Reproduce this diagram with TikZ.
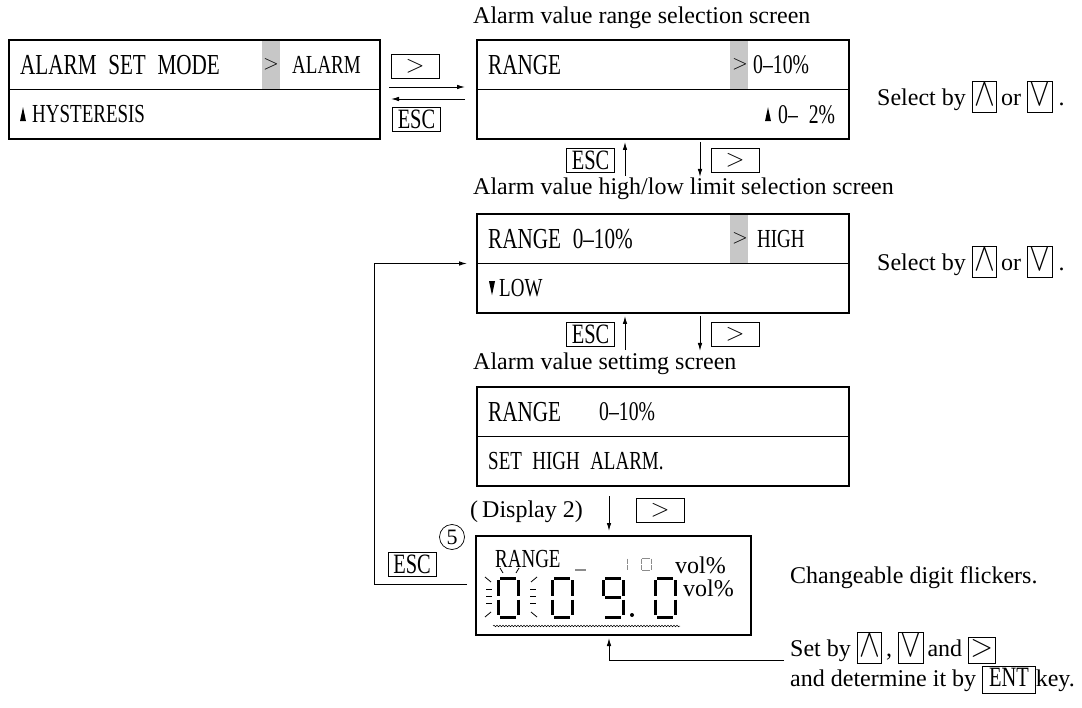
\documentclass[tikz,border=0pt]{standalone}
\usepackage{fontspec}
\setmainfont{Liberation Serif}
\newfontfamily\lcdfont[FakeStretch=0.73,WordSpace=2.2]{Liberation Serif}
\usepackage{graphicx}
\usetikzlibrary{positioning,arrows.meta,calc,backgrounds,decorations.pathmorphing}

\newcommand{\kbox}[1]{{\fboxsep=1.5pt\fboxrule=0.8pt\fbox{\rule[-5pt]{0pt}{22pt}#1}}}
\newcommand{\upkey}{\kbox{\scalebox{1.25}[1.6]{$\wedge$}}}
\newcommand{\dnkey}{\kbox{\scalebox{1.25}[1.6]{$\vee$}}}
% one 7-segment digit, top left corner at (#2,#3), segments #4
\newcommand{\lcddigit}[4][]{%
  \begin{scope}[shift={(#2,#3)},line width=3pt,#1]
    \coordinate (sa1) at (2,0);     \coordinate (sa2) at (18,0);
    \coordinate (sb1) at (20,2);    \coordinate (sb2) at (20,17.5);
    \coordinate (sc1) at (20,21.5); \coordinate (sc2) at (20,37);
    \coordinate (sd1) at (2,39);    \coordinate (sd2) at (18,39);
    \coordinate (se1) at (0,21.5);  \coordinate (se2) at (0,37);
    \coordinate (sf1) at (0,2);     \coordinate (sf2) at (0,17.5);
    \coordinate (sg1) at (2,19.5);  \coordinate (sg2) at (18,19.5);
    \foreach \s in {#4} \draw (s\s1) -- (s\s2);
  \end{scope}}

\begin{document}
\begin{tikzpicture}[x=1pt,y=-1pt,
  row/.style={draw,line width=1.1pt,minimum width=372pt,minimum height=49.5pt,inner sep=0pt,outer sep=0pt,anchor=north west},
  lcdA/.style={font={\lcdfont\fontsize{29}{31}\selectfont},inner sep=0pt,anchor=west},
  lcdB/.style={font={\lcdfont\fontsize{26}{28}\selectfont},inner sep=0pt,anchor=west},
  lcdC/.style={font={\lcdfont\fontsize{27}{29}\selectfont},inner sep=0pt,anchor=west},
  cursor/.style={font={\fontsize{22}{24}\selectfont},inner sep=0pt},
  title/.style={font={\fontsize{24}{28}\selectfont},inner sep=0pt,anchor=west},
  key/.style={draw,line width=0.8pt,minimum width=48pt,minimum height=24pt,inner sep=0pt,font={\fontsize{24}{26}\selectfont}},
  esc/.style={key,font={\lcdfont\fontsize{28}{30}\selectfont}},
  arr/.style={-{Latex[length=8pt,width=4.5pt]},line width=0.9pt},
  shade/.style={fill=black!22},
  ray/.style={line width=0.8pt}
]
\useasboundingbox (0,0) rectangle (1082,708);

% alarm set mode screen
\node[row,minimum width=371pt] (modeT) at (9,40) {};
\node[row,minimum width=371pt] (modeB) at (modeT.south west) {};
\node[lcdA] (modeTx) at ($(modeT.west)+(11,0)$) {ALARM SET MODE};
\node[lcdB] (modeAl) at ($(modeT.west)+(283,0)$) {ALARM};
\node[lcdB] (modeHy) at ($(modeB.west)+(23,0)$) {HYSTERESIS};
\fill ($(modeB.west)+(11,7)$) -- ++(6,0) -- ++(-3,-14) -- cycle;

% range selection screen
\node[title] (t1) at (473,18) {Alarm value range selection screen};
\node[row] (rangeT) at (477,40) {};
\node[row] (rangeB) at (rangeT.south west) {};
\node[lcdA] (rangeTx) at ($(rangeT.west)+(11,0)$) {RANGE};
\node[lcdC] (rangeHi) at ($(rangeT.west)+(276,0)$) {0–10\%};
\node[lcdC] (rangeLo) at ($(rangeB.west)+(301,0)$) {0– 2\%};
\fill ($(rangeB.west)+(288,7)$) -- ++(6,0) -- ++(-3,-14) -- cycle;
\node[title] (sel1) at (877,97) {Select by \upkey\,or \dnkey\ .};

\node[key] (gt1) at (415,66) {$>$};
\node[esc] (esc1) at (416.5,119.5) {ESC};
\draw[arr] ($(modeB.north east)+(9,-2.5)$) -- ($(rangeB.north west)+(-12,-2.5)$);
\draw[arr] ($(rangeB.north west)+(-12,9.5)$) -- ($(modeB.north east)+(11,9.5)$);

\node[esc] (esc2) at (590.5,160) {ESC};
\draw[arr] ($(rangeB.south west)+(148,37)$) -- ($(rangeB.south west)+(148,3)$);
\draw[arr] ($(rangeB.south west)+(223,3)$) -- ($(rangeB.south west)+(223,38)$);
\node[key] (gt2) at (735,160) {$>$};

% high/low limit selection screen
\node[title] (t2) at (473,189) {Alarm value high/low limit selection screen};
\node[row] (limT) at (477,214) {};
\node[row] (limB) at (limT.south west) {};
\node[lcdA] (limTx) at ($(limT.west)+(11,0)$) {RANGE 0–10\%};
\node[lcdB] (limHi) at ($(limT.west)+(280,0)$) {HIGH};
\node[lcdB] (limLo) at ($(limB.west)+(22,0)$) {LOW};
\fill ($(limB.west)+(12,-7)$) -- ++(6,0) -- ++(-3,14) -- cycle;
\node[title] (sel2) at (877,262) {Select by \upkey\,or \dnkey\ .};

\node[esc] (esc3) at (590.5,334) {ESC};
\draw[arr] ($(limB.south west)+(148,37)$) -- ($(limB.south west)+(148,3)$);
\draw[arr] ($(limB.south west)+(223,3)$) -- ($(limB.south west)+(223,38)$);
\node[key] (gt3) at (735,334) {$>$};

% value setting screen
\node[title] (t3) at (473,364) {Alarm value settimg screen};
\node[row] (valT) at (477,387) {};
\node[row] (valB) at (valT.south west) {};
\node[lcdA] (valTx) at ($(valT.west)+(11,0)$) {RANGE};
\node[lcdC] (valRg) at ($(valT.west)+(122,0)$) {0–10\%};
\node[lcdB] (valBx) at ($(valB.west)+(11,0)$) {SET HIGH ALARM.};

% gray cursor columns
\begin{scope}[on background layer]
  \foreach \r in {modeT,rangeT,limT}
    \fill[shade] ($(\r.north west)+(253,0)$) rectangle ($(\r.south west)+(271,0)$);
\end{scope}
\node[cursor] (modeGt) at ($(modeT.west)+(262,0)$) {$>$};
\node[cursor] (rangeGt) at ($(rangeT.west)+(263,0)$) {$>$};
\node[cursor] (limGt) at ($(limT.west)+(263,0)$) {$>$};

% display 2
\node[title] (t4) at (470,512) {(\,Display 2)};
\node[draw,line width=1.1pt,minimum width=275pt,minimum height=99pt,inner sep=0pt,outer sep=0pt,anchor=north west] (lcd) at (476,536) {};
\draw[arr] ($(valB.south west)+(132,10)$) -- ($(lcd.north west)+(133,-5)$);
\node[key] (gt4) at (660,510.5) {$>$};

\node[lcdB] (lcdRg) at ($(lcd.north west)+(19,23)$) {RANGE};
\draw[line width=2pt,black!45] ($(lcd.north west)+(99,34)$) -- ++(11,0);
\node[title] (vol1) at ($(lcd.north west)+(199,29)$) {vol\%};
\node[title] (vol2) at ($(lcd.north west)+(207,52)$) {vol\%};
\lcddigit[xscale=0.5,yscale=0.33,line width=0.9pt,black!45]{617}{558}{b,c}
\lcddigit[xscale=0.5,yscale=0.33,line width=0.9pt,black!45]{641}{558}{a,b,c,d,e,f}
\lcddigit{498}{578}{a,b,c,d,e,f}
\lcddigit{552}{578}{a,b,c,d,e,f}
\lcddigit{603}{578}{a,b,c,d,f,g}
\lcddigit{655}{578}{a,b,c,d,e,f}
\fill (632,615) circle (2);
% flicker marks
\foreach \xa/\ya/\xb/\yb in {485/577/491/582, 486/589/492/589, 486/596/492/596, 486/603/492/603, 485/617/491/612,
  531/582/537/577, 530/589/536/589, 530/596/536/596, 530/603/536/603, 531/612/537/617,
  500/568/503/573, 519/568/516/573}
  \draw[ray] (\xa,\ya) -- (\xb,\yb);
\draw[decorate,decoration={snake,amplitude=0.8pt,segment length=3pt},line width=0.5pt] ($(lcd.south west)+(17,-9)$) -- ++(187,0);

% escape back to limit screen
\node[esc] (esc4) at (412,564.5) {ESC};
\node[circle,draw,line width=0.7pt,minimum size=25pt,inner sep=0pt,font={\fontsize{22}{24}\selectfont}] (c5) at (452,537) {5};
\draw[arr] ($(lcd.west)+(-9,-1.5)$) -- ++(-93,0) |- ($(limT.south west)+(-10,0)$);

\node[title] (flick) at (790,578) {Changeable digit flickers.};
\node[title] (set1) at (790,648) {Set by \upkey\,, \dnkey\,and \kbox{\scalebox{1.2}[1.3]{$>$}}};
\node[title] (set2) at (790,680) {and determine it by \kbox{\lcdfont\fontsize{28}{30}\selectfont\,ENT\,}key.};
\draw[arr] ($(set1.west)+(-6,12)$) -| ($(lcd.south west)+(133,3)$);
\end{tikzpicture}
\end{document}
